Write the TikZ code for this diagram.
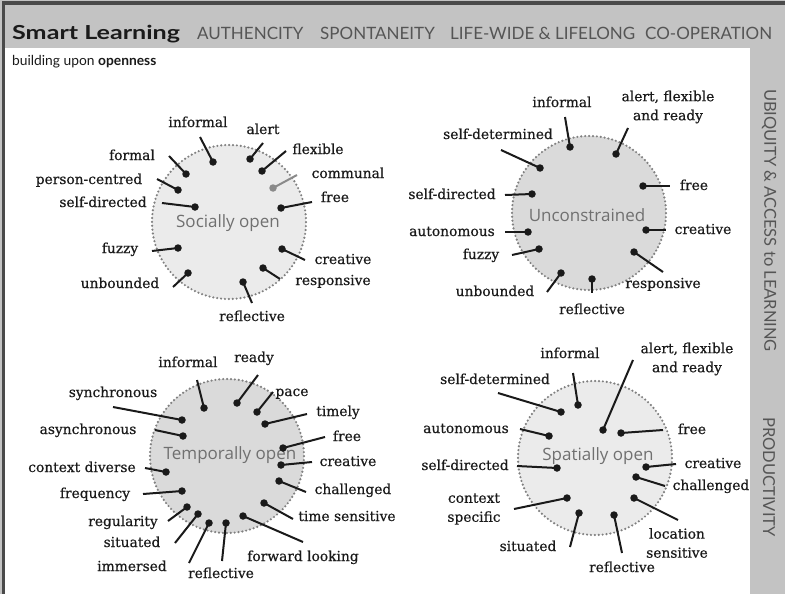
\documentclass[tikz,border=0pt]{standalone}
\usepackage{fontspec}
\setmainfont[FakeBold=0.5]{DejaVu Serif}
\newfontfamily\headfont{Lato}
\newfontfamily\titlefont[FakeStretch=1.3]{Lato}
\newfontfamily\centrefont{Open Sans}

\definecolor{band}{HTML}{C3C3C3}
\definecolor{edge}{HTML}{4A4A4A}
\definecolor{ink}{HTML}{1A1A1A}
\definecolor{headgrey}{HTML}{555555}
\definecolor{centregrey}{HTML}{707070}
\definecolor{rimgrey}{HTML}{808080}
\definecolor{midgrey}{HTML}{8A8A8A}
\definecolor{zonelight}{HTML}{EBEBEB}
\definecolor{zonedark}{HTML}{DADADA}

% one spoke: a dot inside a zone and a stroke running out towards its label
\newcommand\spk[4][ink]{%
  \node[dot, fill=#1] (#2d) at (#3) {};
  \coordinate (#2e) at (#4);
  \draw[spoke, draw=#1] (#2d.center) -- (#2e);}

\tikzset{
  dot/.style={circle, inner sep=0pt, minimum size=7.5pt},
  spoke/.style={line width=2pt},
  lbl/.style={font=\fontsize{13.8}{15}\selectfont, text=ink, inner sep=0pt,
              text height=10.5pt, text depth=2.5pt},
  lbltwo/.style={font=\fontsize{13.8}{19}\selectfont, text=ink, inner sep=0pt,
              align=center},
  zone/.style={circle, minimum size=154pt, inner sep=0pt, draw=rimgrey,
              line width=2.4pt, dash pattern=on 0pt off 3.9pt, line cap=round},
  centre/.style={font=\centrefont\fontsize{17}{19}\selectfont, text=centregrey,
              inner sep=0pt},
  head/.style={font=\headfont\fontsize{17}{19}\selectfont, text=headgrey,
              inner sep=0pt, anchor=base west},
  side/.style={font=\headfont\fontsize{16.5}{19}\selectfont, text=headgrey,
              inner sep=0pt, rotate=-90},
}

\begin{document}
\begin{tikzpicture}[x=1pt, y=-1pt]
\useasboundingbox (0,0) rectangle (785,594);

% frame: grey band on top and right, dark rule on top and left, white field
\fill[band] (0,0) rectangle (785,594);
\fill[edge] (1.5,1.5) rectangle (785,4.6);
\fill[edge] (1.5,1.5) rectangle (4.6,594);
\fill[white] (5,48.3) rectangle (750,594);

% header
\node[anchor=base west, inner sep=0pt, text=ink,
      font=\titlefont\bfseries\fontsize{19.3}{21}\selectfont] (title) at (12,39.5) {Smart Learning};
\node[head] (h1) at (197,39.5) {AUTHENCITY};
\node[head] (h2) at (320,39.5) {SPONTANEITY};
\node[head] (h3) at (450,39.5) {LIFE-WIDE \& LIFELONG};
\node[head] (h4) at (645,39.5) {CO-OPERATION};
\node[anchor=base west, inner sep=0pt, text=ink,
      font=\headfont\fontsize{13.8}{16}\selectfont] (sub) at (12,66) {building upon \textbf{openness}};

% side band
\node[side] (v1) at (769,220.5) {UBIQUITY \& ACCESS to LEARNING};
\node[side] (v2) at (769,477) {PRODUCTIVITY};

% ---------- Socially open ----------
\node[zone, fill=zonelight] (soc) at (229,222) {};
\node[centre] (socT) at (228,223) {Socially open};
\spk{s1}{213,162}{200,137}
\spk{s2}{250,159}{263,143}
\spk{s3}{262,171}{286,151}
\spk[midgrey]{s4}{273,188}{297,175}
\spk{s5}{281,208}{312,202}
\spk{s6}{282,249}{305,260}
\spk{s7}{263,268}{280,279}
\spk{s8}{243,282}{252,303}
\spk{s9}{188,273}{173,287}
\spk{s10}{178,248}{152,251}
\spk{s11}{195,207}{162,203}
\spk{s12}{178,190}{157,179}
\spk{s13}{186,174}{169,156}
\node[lbl] (s1l) at (198,123) {informal};
\node[lbl] (s2l) at (263,130) {alert};
\node[lbl] (s3l) at (318,150) {flexible};
\node[lbl] (s4l) at (348,174) {communal};
\node[lbl] (s5l) at (335,198) {free};
\node[lbl] (s6l) at (343,260) {creative};
\node[lbl] (s7l) at (333,281) {responsive};
\node[lbl] (s8l) at (252,317) {reflective};
\node[lbl] (s9l) at (120,284) {unbounded};
\node[lbl] (s10l) at (120,249) {fuzzy};
\node[lbl] (s11l) at (103,203) {self-directed};
\node[lbl] (s12l) at (89,180) {person-centred};
\node[lbl] (s13l) at (132,156) {formal};

% ---------- Unconstrained ----------
\node[zone, fill=zonedark] (unc) at (589,213) {};
\node[centre] (uncT) at (587,215) {Unconstrained};
\spk{u1}{570,147}{565,117}
\spk{u2}{616,154}{628,128}
\spk{u3}{540,168}{501,150}
\spk{u4}{643,186}{670,186}
\spk{u5}{532,194}{505,195}
\spk{u6}{646,230}{666,230}
\spk{u7}{528,232}{505,232}
\spk{u8}{539,249}{512,255}
\spk{u9}{634,252}{663,272}
\spk{u10}{561,273}{547,292}
\spk{u11}{592,279}{592,293}
\node[lbl] (u1l) at (562,103) {informal};
\node[lbltwo] (u2l) at (668,107) {alert, flexible\\and ready};
\node[lbl] (u3l) at (498,135) {self-determined};
\node[lbl] (u4l) at (694,186) {free};
\node[lbl] (u5l) at (452,195) {self-directed};
\node[lbl] (u6l) at (703,230) {creative};
\node[lbl] (u7l) at (452,232) {autonomous};
\node[lbl] (u8l) at (481,255) {fuzzy};
\node[lbl] (u9l) at (663,284) {responsive};
\node[lbl] (u10l) at (495,292) {unbounded};
\node[lbl] (u11l) at (592,310) {reflective};

% ---------- Temporally open ----------
\node[zone, fill=zonedark] (tem) at (227,456) {};
\node[centre] (temT) at (230,455) {Temporally open};
\spk{t1}{204,408}{197,380}
\spk{t2}{237,403}{258,375}
\spk{t3}{257,412}{273,392}
\spk{t4}{265,424}{307,414}
\spk{t5}{283,448}{325,437}
\spk{t6}{281,465}{312,462}
\spk{t7}{279,481}{306,492}
\spk{t8}{264,503}{293,519}
\spk{t9}{243,516}{303,542}
\spk{t10}{226,523}{222,561}
\spk{t11}{209,523}{189,563}
\spk{t12}{198,514}{175,543}
\spk{t13}{187,507}{168,521}
\spk{t14}{182,491}{143,494}
\spk{t15}{166,472}{145,468}
\spk{t16}{183,436}{155,430}
\spk{t17}{182,420}{113,407}
\node[lbl] (t1l) at (188,363) {informal};
\node[lbl] (t2l) at (254,358) {ready};
\node[lbl] (t3l) at (292,392) {pace};
\node[lbl] (t4l) at (338,412) {timely};
\node[lbl] (t5l) at (347,437) {free};
\node[lbl] (t6l) at (348,462) {creative};
\node[lbl] (t7l) at (353,490) {challenged};
\node[lbl] (t8l) at (347,517) {time sensitive};
\node[lbl] (t9l) at (303,557) {forward looking};
\node[lbl] (t10l) at (221,574) {reflective};
\node[lbl] (t11l) at (132,567) {immersed};
\node[lbl] (t12l) at (132,543) {situated};
\node[lbl] (t13l) at (123,522) {regularity};
\node[lbl] (t14l) at (95,494) {frequency};
\node[lbl] (t15l) at (82,468) {context diverse};
\node[lbl] (t16l) at (88,430) {asynchronous};
\node[lbl] (t17l) at (113,393) {synchronous};

% ---------- Spatially open ----------
\node[zone, fill=zonelight] (spa) at (595,458) {};
\node[centre] (spaT) at (598,456) {Spatially open};
\spk{p1}{578,405}{573,373}
\spk{p2}{603,430}{633,360}
\spk{p3}{561,412}{498,393}
\spk{p4}{549,436}{520,429}
\spk{p5}{621,433}{663,430}
\spk{p6}{557,468}{517,466}
\spk{p7}{646,467}{676,464}
\spk{p8}{636,477}{665,486}
\spk{p9}{567,498}{514,509}
\spk{p10}{634,498}{678,520}
\spk{p11}{579,513}{570,547}
\spk{p12}{614,515}{622,553}
\node[lbl] (p1l) at (570,354) {informal};
\node[lbltwo] (p2l) at (687,359) {alert, flexible\\and ready};
\node[lbl] (p3l) at (495,380) {self-determined};
\node[lbl] (p4l) at (466,429) {autonomous};
\node[lbl] (p5l) at (692,430) {free};
\node[lbl] (p6l) at (465,466) {self-directed};
\node[lbl] (p7l) at (713,464) {creative};
\node[lbl] (p8l) at (711,486) {challenged};
\node[lbltwo] (p9l) at (474,509) {context\\specific};
\node[lbltwo] (p10l) at (677,543) {location\\sensitive};
\node[lbl] (p11l) at (528,547) {situated};
\node[lbl] (p12l) at (622,568) {reflective};
\end{tikzpicture}
\end{document}
